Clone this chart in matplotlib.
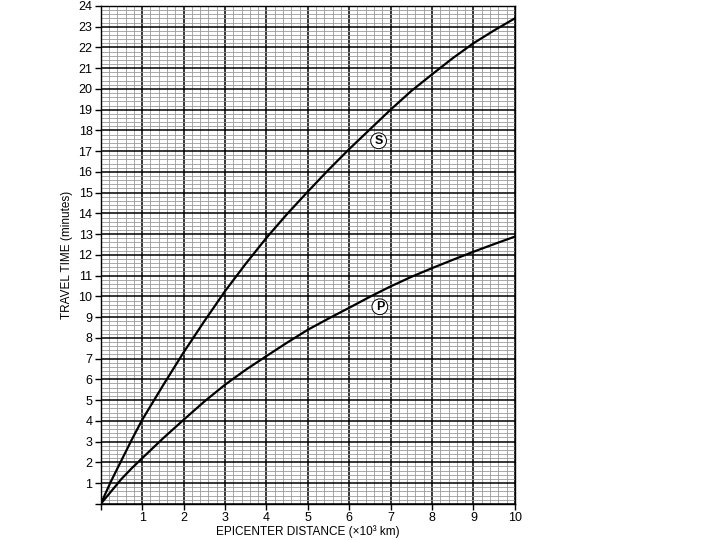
import matplotlib.pyplot as plt
import numpy as np
from matplotlib.ticker import MultipleLocator

plt.rcParams['font.family'] = ['Liberation Sans', 'DejaVu Sans']

# epicenter distance (x10^3 km)
distance = [0, 0.25, 0.5, 0.75, 1, 1.5, 2, 2.5, 3, 3.5, 4, 4.5, 5, 5.5, 6, 6.5, 7, 7.5, 8, 8.5, 9, 9.5, 10]
# travel times (minutes)
s_wave = [0, 1.1, 2.1, 3.1, 4.05, 5.7, 7.3, 8.8, 10.25, 11.57, 12.82, 13.97, 15.05, 16.1, 17.1, 18.05, 19.0, 19.9, 20.7, 21.48, 22.2, 22.82, 23.4]
p_wave = [0, 0.6, 1.2, 1.72, 2.2, 3.15, 4.05, 4.93, 5.74, 6.46, 7.12, 7.77, 8.39, 8.93, 9.45, 9.98, 10.48, 10.94, 11.36, 11.76, 12.15, 12.52, 12.88]

fig = plt.figure(figsize=(7.2, 5.4), dpi=100)
ax = fig.add_axes([0.140, 0.067, 0.575, 0.922])

ax.plot(distance, s_wave, c='black', lw=1.6, solid_joinstyle='round')
ax.plot(distance, p_wave, c='black', lw=1.6, solid_joinstyle='round')

ax.set_xlim(0, 10)
ax.set_ylim(0, 24)
ax.xaxis.set_minor_locator(MultipleLocator(0.2))
ax.yaxis.set_minor_locator(MultipleLocator(0.2))
ax.set_xticks(range(0, 11))
ax.set_yticks(range(0, 25))
ax.set_xticklabels([''] + [str(i) for i in range(1, 11)])
ax.set_yticklabels([''] + [str(i) for i in range(1, 25)])
ax.grid(True, which='minor', color='#9a9a9a', lw=0.6)
ax.grid(True, which='major', color='black', lw=1.1)
ax.set_axisbelow(True)

ax.tick_params(which='major', length=4, width=1, labelsize=9, direction='out', pad=2)
ax.tick_params(which='minor', length=0)
for sp in ax.spines.values():
    sp.set_linewidth(1.0)

ax.set_xlabel('EPICENTER DISTANCE (×10³ km)', fontsize=8.5, labelpad=1)
ax.set_ylabel('TRAVEL TIME (minutes)', fontsize=8.5, labelpad=4)

circ = dict(boxstyle='circle,pad=0.15', fc='white', ec='black', lw=0.7)
ax.text(6.71, 17.5, 'S', fontsize=9, fontweight='bold', ha='center', va='center', bbox=circ)
ax.text(6.74, 9.5, 'P', fontsize=9, fontweight='bold', ha='center', va='center', bbox=circ)

plt.savefig('out.png', dpi=100)
plt.close()
